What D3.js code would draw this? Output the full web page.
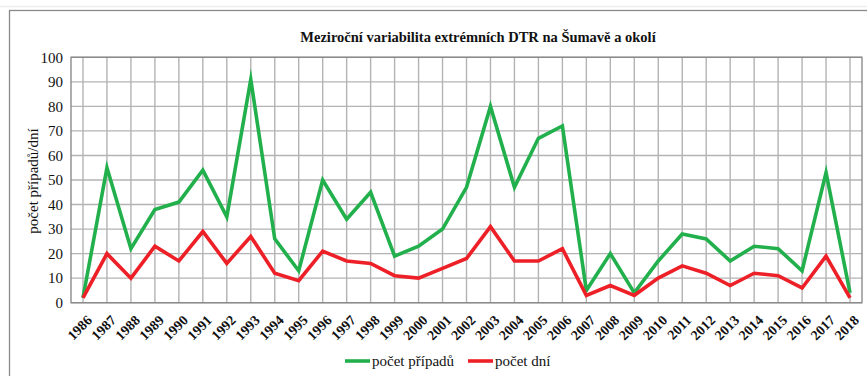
<!DOCTYPE html>
<html>
<head>
<meta charset="utf-8">
<script src="https://cdn.jsdelivr.net/npm/d3@7"></script>
<style>
  html, body { margin: 0; padding: 0; background: #fff; }
  svg { display: block; }
  svg text { font-family: "Liberation Serif", "Times New Roman", Times, "DejaVu Serif", serif; fill: #111; }
</style>
</head>
<body>
<svg id="chart" width="867" height="376"></svg>
<script>
// Roky sledovaného období
const years = [1986, 1987, 1988, 1989, 1990, 1991, 1992, 1993, 1994, 1995, 1996,
  1997, 1998, 1999, 2000, 2001, 2002, 2003, 2004, 2005, 2006, 2007, 2008, 2009,
  2010, 2011, 2012, 2013, 2014, 2015, 2016, 2017, 2018];

// Počet případů extrémních DTR v jednotlivých letech
const pocetPripadu = [2, 55, 22, 38, 41, 54, 35, 91, 26, 13, 50,
  34, 45, 19, 23, 30, 47, 80, 47, 67, 72, 5, 20, 4,
  17, 28, 26, 17, 23, 22, 13, 53, 4];

// Počet dní s extrémním DTR
const pocetDni = [2, 20, 10, 23, 17, 29, 16, 27, 12, 9, 21,
  17, 16, 11, 10, 14, 18, 31, 17, 17, 22, 3, 7, 3,
  10, 15, 12, 7, 12, 11, 6, 19, 2];

const yTicks = [0, 10, 20, 30, 40, 50, 60, 70, 80, 90, 100];

const chartTitle = "Meziroční variabilita extrémních DTR na Šumavě  a okolí";
const yTitle = "počet případů/dní";
const seriesNames = ["počet případů", "počet dní"];
const seriesColors = ["#22b04d", "#ee2027"];

const serif = '"Liberation Serif", "Times New Roman", Times, "DejaVu Serif", serif';

const svg = d3.select("#chart");

// Vnější rámeček grafu
svg.append("line")
  .attr("x1", 0).attr("x2", 867).attr("y1", 6.5).attr("y2", 6.5)
  .attr("stroke", "#ececec").attr("stroke-width", 1.5);
svg.append("rect")
  .attr("x", 9.5).attr("y", 10.5)
  .attr("width", 880).attr("height", 400)
  .attr("fill", "none").attr("stroke", "#8a8a8a").attr("stroke-width", 1.3);

const plot = { left: 71, right: 862, top: 57.3, bottom: 302.7 };

const x = d3.scalePoint()
  .domain(years)
  .range([plot.left, plot.right])
  .padding(0.5);

const y = d3.scaleLinear()
  .domain([0, 100])
  .range([plot.bottom, plot.top]);

// Mřížka
const grid = svg.append("g");
grid.selectAll("line.h")
  .data(yTicks)
  .join("line")
  .attr("class", "h")
  .attr("x1", plot.left).attr("x2", plot.right)
  .attr("y1", d => y(d)).attr("y2", d => y(d))
  .attr("stroke", "#b3b3b3").attr("stroke-width", 1.4);
grid.selectAll("line.v")
  .data(years)
  .join("line")
  .attr("class", "v")
  .attr("x1", d => x(d)).attr("x2", d => x(d))
  .attr("y1", plot.top).attr("y2", plot.bottom)
  .attr("stroke", "#b3b3b3").attr("stroke-width", 1.4);
svg.append("rect")
  .attr("x", plot.left).attr("y", plot.top)
  .attr("width", plot.right - plot.left).attr("height", plot.bottom - plot.top)
  .attr("fill", "none").attr("stroke", "#8c8c8c").attr("stroke-width", 1.4);

// Osa Y
const yAxis = d3.axisLeft(y).tickValues(yTicks).tickSize(0).tickPadding(8);
const gy = svg.append("g")
  .attr("transform", `translate(${plot.left},0)`)
  .call(yAxis)
  .attr("font-family", serif);
gy.select(".domain").remove();
gy.selectAll("text")
  .style("font-family", serif)
  .style("font-size", "15px")
  .attr("fill", "#111");

// Osa X
const xAxis = d3.axisBottom(x).tickSize(0).tickPadding(0);
const gx = svg.append("g")
  .attr("transform", `translate(0,${plot.bottom})`)
  .call(xAxis)
  .attr("font-family", serif);
gx.select(".domain").remove();
gx.selectAll("text")
  .style("font-family", serif)
  .style("font-size", "14px")
  .style("font-weight", "bold")
  .attr("fill", "#111")
  .attr("text-anchor", "end")
  .attr("y", 0).attr("dy", "0.35em")
  .attr("transform", "translate(6,15) rotate(-45)");

// Popisek osy Y
svg.append("text")
  .attr("transform", `translate(33,181) rotate(-90)`)
  .attr("text-anchor", "middle")
  .attr("dy", "0.35em")
  .style("font-family", serif)
  .style("font-size", "15px")
  .text(yTitle);

// Nadpis
svg.append("text")
  .attr("x", 478).attr("y", 42)
  .attr("text-anchor", "middle")
  .style("font-family", serif)
  .style("font-size", "14.5px")
  .style("font-weight", "bold")
  .text(chartTitle);

// Datové řady
const line = d3.line()
  .x((d, i) => x(years[i]))
  .y(d => y(d));

[pocetPripadu, pocetDni].forEach((vals, i) => {
  svg.append("path")
    .datum(vals)
    .attr("d", line)
    .attr("fill", "none")
    .attr("stroke", seriesColors[i])
    .attr("stroke-width", 3.6)
    .attr("stroke-linejoin", "miter")
    .attr("stroke-miterlimit", 10);
});

// Legenda
const legendItems = [
  { name: seriesNames[0], color: seriesColors[0], x: 345 },
  { name: seriesNames[1], color: seriesColors[1], x: 468 }
];
const lg = svg.append("g");
legendItems.forEach(it => {
  lg.append("line")
    .attr("x1", it.x).attr("x2", it.x + 25)
    .attr("y1", 361).attr("y2", 361)
    .attr("stroke", it.color).attr("stroke-width", 3.6);
  lg.append("text")
    .attr("x", it.x + 27).attr("y", 361)
    .attr("dy", "0.32em")
    .style("font-family", serif)
    .style("font-size", "15px")
    .text(it.name);
});
</script>
</body>
</html>
